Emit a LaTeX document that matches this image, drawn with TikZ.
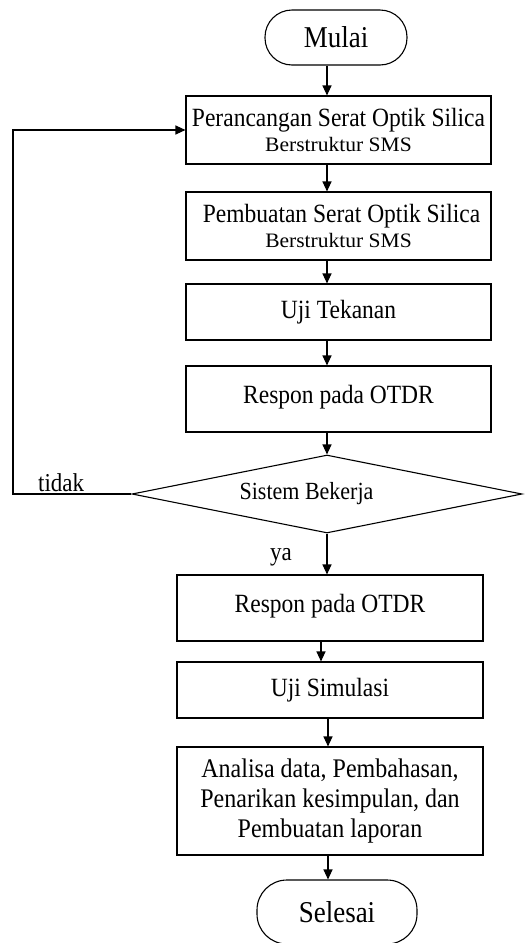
\documentclass[tikz,border=0pt]{standalone}
\usepackage{fontspec}
\setmainfont{Liberation Serif}
\usepackage{graphicx}
\usetikzlibrary{arrows.meta,shapes.geometric}
\newcommand{\ys}[1]{\scalebox{1}[1.12]{#1}}
\newcommand{\sub}[1]{\scalebox{1.05}[1.0]{\fontsize{20.5}{22}\selectfont #1}}
\tikzset{
  box/.style={draw, line width=1.1pt, inner sep=0pt, align=center,
    font=\fontsize{23.5}{27}\selectfont},
  term/.style={draw, line width=1.1pt, inner sep=0pt, rounded corners=27pt,
    font=\fontsize{27}{30}\selectfont},
  arr/.style={line width=1.1pt, -{Triangle[width=9pt,length=10pt]}},
  lbl/.style={inner sep=0pt, font=\fontsize{23}{26}\selectfont}
}
\begin{document}
\begin{tikzpicture}[x=1pt,y=-1pt]
\useasboundingbox (0,0) rectangle (526,943);
\fill[white] (0,0) rectangle (526,943);
\coordinate (xa) at (327,0);
\coordinate (xb) at (321,0);
\coordinate (xc) at (328,0);
\coordinate (lp) at (13,300);

\node[term, minimum width=142pt, minimum height=55pt] (mulai) at (336,37.5) {\ys{Mulai}};
\node[box, minimum width=305pt, minimum height=68pt] (b1) at (338.5,130)
  {\ys{Perancangan Serat Optik Silica}\\[-2pt]\sub{Berstruktur SMS}};
\node[box, minimum width=305pt, minimum height=68pt] (b2) at (338.5,226)
  {\hspace*{6pt}\ys{Pembuatan Serat Optik Silica}\\[-2pt]\sub{Berstruktur SMS}};
\node[box, minimum width=305pt, minimum height=56pt] (b3) at (338.5,312) {\ys{Uji Tekanan}};
\node[box, minimum width=305pt, minimum height=66pt] (b4) at (338.5,399)
  {\raisebox{10pt}{\ys{Respon pada OTDR}}};
\node[draw, line width=1.1pt, diamond, shape aspect=5, inner sep=0pt,
  minimum width=390pt, minimum height=78pt] (dia) at (327,494) {};
\node[lbl, font=\fontsize{22}{24}\selectfont] (diat) at (306.5,494) {\ys{Sistem Bekerja}};
\node[box, minimum width=306pt, minimum height=66pt] (b5) at (330,608)
  {\raisebox{10pt}{\ys{Respon pada OTDR}}};
\node[box, minimum width=306pt, minimum height=56pt] (b6) at (330,690) {\ys{Uji Simulasi}};
\node[box, minimum width=306pt, minimum height=108pt, font=\fontsize{24}{30}\selectfont] (b7) at (330,801)
  {\ys{Analisa data, Pembahasan,}\\\ys{Penarikan kesimpulan, dan}\\\ys{Pembuatan laporan}};
\node[term, minimum width=160pt, minimum height=64pt, rounded corners=30pt] (sel) at (337,912) {\ys{Selesai}};

\node[lbl, anchor=base west] (tidak) at (38,491) {\ys{tidak}};
\node[lbl, anchor=base west] (ya) at (270,560) {\ys{ya}};

\draw[arr] (mulai.south -| xa) -- (b1.north -| xa);
\draw[arr] (b1.south -| xa) -- (b2.north -| xa);
\draw[arr] (b2.south -| xa) -- (b3.north -| xa);
\draw[arr] (b3.south -| xa) -- (b4.north -| xa);
\draw[arr] (b4.south -| xa) -- (dia.north);
\draw[arr] (dia.south) -- (b5.north -| xa);
\draw[arr] (b5.south -| xb) -- (b6.north -| xb);
\draw[arr] (b6.south -| xc) -- (b7.north -| xc);
\draw[arr] (b7.south -| xc) -- (sel.north -| xc);
\draw[arr] (dia.west) -| (lp) |- (b1.west);
\end{tikzpicture}
\end{document}
